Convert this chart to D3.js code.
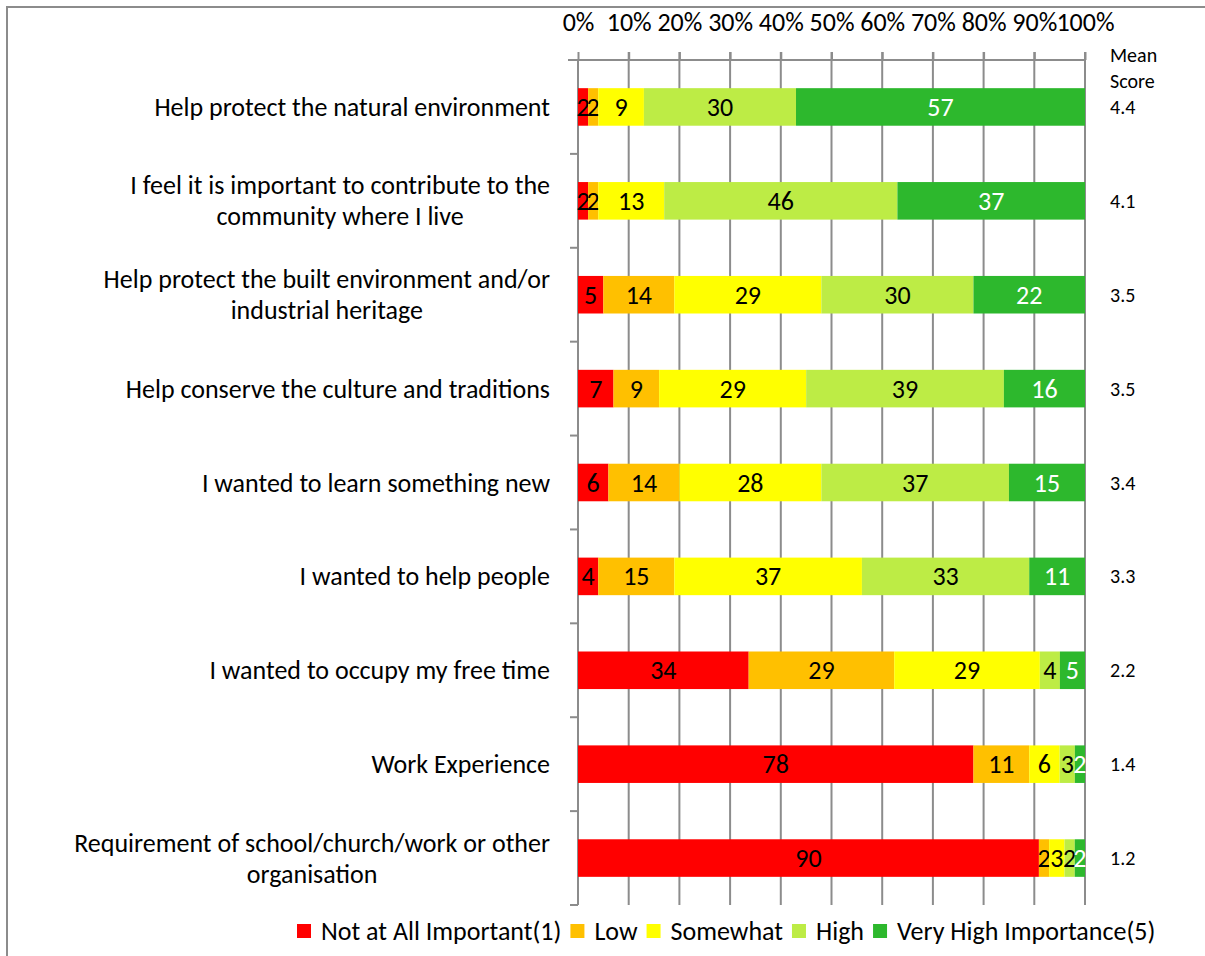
<!DOCTYPE html>
<html lang="en">
<head>
<meta charset="utf-8">
<title>Reasons for volunteering</title>
<script src="https://d3js.org/d3.v7.min.js"></script>
<style>
  body { margin: 0; background: #fff; }
  text { font-family: Carlito, Lato, "Open Sans", sans-serif; fill: #000; }
</style>
</head>
<body>
<script>
// chart values
var categories = [
  ["Help protect the natural environment"],
  ["I feel it is important to contribute to the", "community where I live"],
  ["Help protect the built environment and/or", "industrial heritage"],
  ["Help conserve the culture and traditions"],
  ["I wanted to learn something new"],
  ["I wanted to help people"],
  ["I wanted to occupy my free time"],
  ["Work Experience"],
  ["Requirement of school/church/work or other", "organisation"]
];
var notAtAll = [2, 2, 5, 7, 6, 4, 34, 78, 90];
var low = [2, 2, 14, 9, 14, 15, 29, 11, 2];
var somewhat = [9, 13, 29, 29, 28, 37, 29, 6, 3];
var high = [30, 46, 30, 39, 37, 33, 4, 3, 2];
var veryHigh = [57, 37, 22, 16, 15, 11, 5, 2, 2];
var meanScores = ["4.4", "4.1", "3.5", "3.5", "3.4", "3.3", "2.2", "1.4", "1.2"];
var seriesNames = ["Not at All Important(1)", "Low", "Somewhat", "High", "Very High Importance(5)"];
var seriesColors = ["#ff0000", "#ffc000", "#ffff00", "#bdec45", "#2db82d"];
var tickValues = [0, 0.1, 0.2, 0.3, 0.4, 0.5, 0.6, 0.7, 0.8, 0.9, 1];

var w = 1205, h = 956;
var margin = {top: 60, right: 120, bottom: 51, left: 578};
var fs = 26;

var keys = ["s0", "s1", "s2", "s3", "s4"];
var allSeries = [notAtAll, low, somewhat, high, veryHigh];
var rows = categories.map(function(c, i) {
  var r = {idx: i};
  keys.forEach(function(k, j) { r[k] = allSeries[j][i]; });
  return r;
});

var stack = d3.stack().keys(keys).offset(d3.stackOffsetExpand);
var series = stack(rows);

var x = d3.scaleLinear().domain([0, 1]).range([margin.left, w - margin.right]);
var y = d3.scaleBand().domain(d3.range(categories.length))
  .range([margin.top, h - margin.bottom]).paddingInner(0.6).paddingOuter(0.3);
var step = y.step();

var svg = d3.select("body").append("svg").attr("width", w).attr("height", h);

// frame
svg.append("path").attr("d", "M7," + h + "V7H" + w)
  .attr("fill", "none").attr("stroke", "#8c8c8c").attr("stroke-width", 2);

// gridlines
svg.append("g").selectAll("line").data(tickValues.slice(1)).enter().append("line")
  .attr("x1", function(d) { return x(d); }).attr("x2", function(d) { return x(d); })
  .attr("y1", margin.top - 8).attr("y2", h - margin.bottom)
  .attr("stroke", "#8c8c8c").attr("stroke-width", 2);

// top axis
var xAxis = d3.axisTop(x).tickValues(tickValues).tickFormat(d3.format(".0%")).tickSize(8).tickPadding(21);
var gx = svg.append("g").attr("transform", "translate(0," + margin.top + ")").call(xAxis);
gx.select(".domain").attr("stroke", "#8c8c8c").attr("stroke-width", 2)
  .attr("d", "M" + (margin.left - 10) + ",0H" + x(1));
gx.selectAll(".tick line").attr("stroke", "#8c8c8c").attr("stroke-width", 2);
gx.selectAll(".tick text").style("font-size", fs + "px").attr("fill", "#000");

// left axis line with category dividers
var yTop = margin.top, yBot = h - margin.bottom;
svg.append("line").attr("x1", x(0)).attr("x2", x(0)).attr("y1", yTop).attr("y2", yBot)
  .attr("stroke", "#8c8c8c").attr("stroke-width", 2);
svg.append("g").selectAll("line").data(d3.range(categories.length + 1).slice(1)).enter().append("line")
  .attr("x1", x(0) - 8).attr("x2", x(0))
  .attr("y1", function(d) { return yTop + d * step; })
  .attr("y2", function(d) { return yTop + d * step; })
  .attr("stroke", "#8c8c8c").attr("stroke-width", 2);

// bars
var groups = svg.selectAll("g.bars").data(series).enter().append("g")
  .attr("class", "bars").attr("fill", function(d, i) { return seriesColors[i]; });
groups.selectAll("rect").data(function(d) { return d; }).enter().append("rect")
  .attr("x", function(d) { return x(d[0]); })
  .attr("y", function(d, i) { return y(i); })
  .attr("width", function(d) { return x(d[1]) - x(d[0]); })
  .attr("height", y.bandwidth());

// value labels
groups.each(function(s, si) {
  d3.select(this).selectAll("text").data(s).enter().append("text")
    .attr("x", function(d) { return (x(d[0]) + x(d[1])) / 2; })
    .attr("y", function(d, i) { return y(i) + y.bandwidth() / 2; })
    .attr("dy", "0.35em")
    .attr("text-anchor", "middle")
    .style("font-size", fs + "px")
    .style("fill", si === 4 ? "#fff" : "#000")
    .text(function(d) { return d.data[keys[si]]; });
});

// category labels: block right-aligned, lines centred within it
var labelRight = margin.left - 28;
svg.append("g").selectAll("g").data(categories).enter().append("g")
  .each(function(d, i) {
    var g = d3.select(this);
    var cy = y(i) + y.bandwidth() / 2;
    var texts = d.map(function(line, k) {
      return g.append("text")
        .attr("y", cy + (k - (d.length - 1) / 2) * 31)
        .attr("dy", "0.35em")
        .attr("text-anchor", "middle")
        .style("font-size", fs + "px")
        .text(line);
    });
    var maxW = d3.max(texts, function(t) { return t.node().getComputedTextLength(); });
    texts.forEach(function(t) { t.attr("x", labelRight - maxW / 2); });
  });

// mean score column
svg.append("text").attr("x", 1110).attr("y", 62).style("font-size", "20px").text("Mean");
svg.append("text").attr("x", 1110).attr("y", 88).style("font-size", "20px").text("Score");
svg.append("g").selectAll("text").data(meanScores).enter().append("text")
  .attr("x", 1110)
  .attr("y", function(d, i) { return y(i) + y.bandwidth() / 2; })
  .attr("dy", "0.35em")
  .style("font-size", "20px")
  .text(function(d) { return d; });

// legend
var legend = svg.append("g").attr("transform", "translate(297,931)");
var lx = 0;
seriesNames.forEach(function(name, i) {
  var g = legend.append("g").attr("transform", "translate(" + lx + ",0)");
  g.append("rect").attr("y", -7).attr("width", 14).attr("height", 14).attr("fill", seriesColors[i]);
  var t = g.append("text").attr("x", 24).attr("dy", "0.35em").style("font-size", fs + "px").text(name);
  lx += 24 + t.node().getComputedTextLength() + 9;
});
</script>
</body>
</html>
